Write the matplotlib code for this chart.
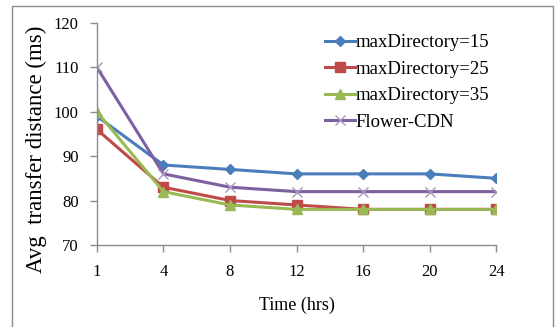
import matplotlib
matplotlib.use("Agg")
import matplotlib.pyplot as plt
from matplotlib.patches import Rectangle

hours = ["1", "4", "8", "12", "16", "20", "24"]
max_dir_15 = [99, 88, 87, 86, 86, 86, 85]
max_dir_25 = [96, 83, 80, 79, 78, 78, 78]
max_dir_35 = [100, 82, 79, 78, 78, 78, 78]
flower_cdn = [110, 86, 83, 82, 82, 82, 82]

plt.rcParams["font.family"] = ["Liberation Serif", "DejaVu Serif"]

fig = plt.figure(figsize=(5.6, 3.27), dpi=100)
ax = fig.add_axes([0.173, 0.251, 0.713, 0.679])

# outer chart frame
fig.patches.append(Rectangle((12 / 560, -0.05), (553 - 12) / 560, 1 - 6 / 327 + 0.05,
                             transform=fig.transFigure, fill=False,
                             edgecolor="#8c8c8c", linewidth=1.0))

x = list(range(len(hours)))
ax.plot(x, max_dir_15, color="#4A7EBB", marker="D", markersize=5, linewidth=2.2,
        label="maxDirectory=15")
ax.plot(x, max_dir_25, color="#BE4B48", marker="s", markersize=6.5, linewidth=2.2,
        label="maxDirectory=25")
ax.plot(x, max_dir_35, color="#98B954", marker="^", markersize=7, linewidth=2.2,
        label="maxDirectory=35")
ax.plot(x, flower_cdn, color="#7D60A0", marker="x", markersize=7.5, markeredgewidth=1.0,
        linewidth=2.2, label="Flower-CDN", markeredgecolor="#A896C0")

ax.set_xlim(0, len(hours) - 1)
ax.set_ylim(70, 120)
ax.set_yticks([70, 80, 90, 100, 110, 120])
ax.set_xticks(x)
ax.set_xticklabels(hours)

for side in ("top", "right"):
    ax.spines[side].set_visible(False)
for side in ("left", "bottom"):
    ax.spines[side].set_color("#8c8c8c")
    ax.spines[side].set_linewidth(1.0)
ax.spines["bottom"].set_zorder(0)

ax.tick_params(axis="both", colors="#8c8c8c", labelcolor="black", labelsize=12,
               length=5, width=1.0)
ax.tick_params(axis="x", pad=9)
ax.tick_params(axis="y", pad=8)

ax.set_xlabel("Time (hrs)", fontsize=13, labelpad=12)
ax.set_ylabel("Avg  transfer distance (ms)", fontsize=16.5)
ax.yaxis.set_label_coords(-0.125, 0.43)

ax.legend(loc="upper right", bbox_to_anchor=(1.01, 1.0), frameon=False, fontsize=13.5,
          handlelength=1.6, handletextpad=0.0, labelspacing=0.5, borderaxespad=0.2)

fig.savefig("out.png", dpi=100)
